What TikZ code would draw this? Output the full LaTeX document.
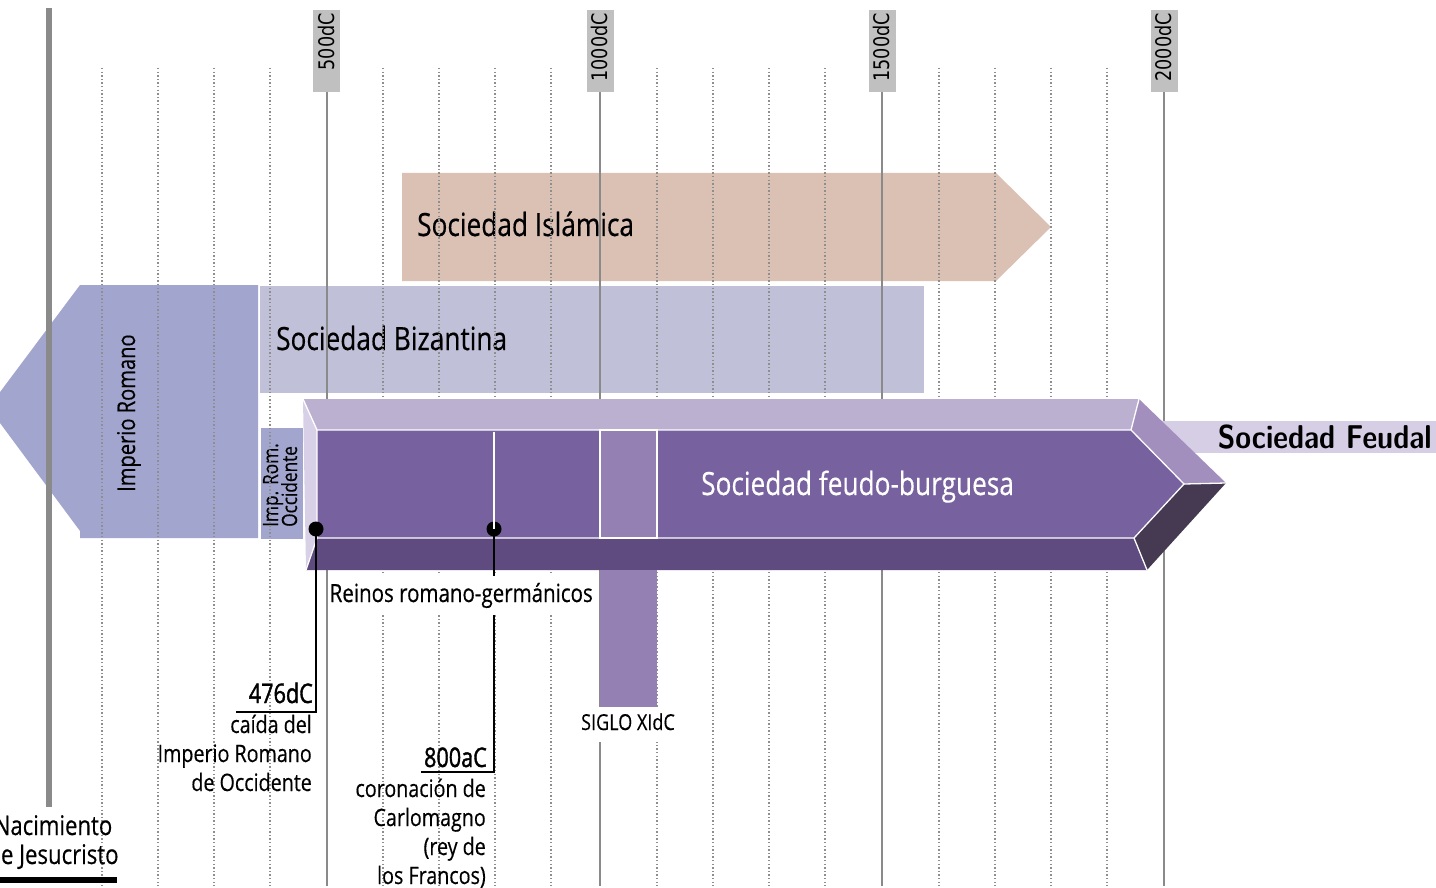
\documentclass[tikz,border=0pt]{standalone}
\usepackage{fontspec}
\usepackage{graphicx}
\newfontfamily\cnd{Open Sans}[FakeStretch=0.82, FakeBold=0.4]
\newfontfamily\cndb{Open Sans}[FakeStretch=0.80, FakeBold=1.4]
\newfontfamily\axf{DejaVu Sans}[FakeStretch=0.82]
\definecolor{islc}{HTML}{DBC0B4}
\definecolor{bizc}{HTML}{C0C1D8}
\definecolor{romc}{HTML}{A2A5CE}
\definecolor{ftop}{HTML}{BBB0D0}
\definecolor{fleft}{HTML}{D8D0E6}
\definecolor{ffront}{HTML}{77619E}
\definecolor{fbot}{HTML}{5F4B80}
\definecolor{fbevu}{HTML}{A28FBE}
\definecolor{fbevl}{HTML}{453A52}
\definecolor{fhl}{HTML}{9580B4}
\definecolor{fband}{HTML}{D6CEE5}
\definecolor{axboxc}{HTML}{C0C0C0}
\definecolor{axlinec}{HTML}{8A8A8A}
\definecolor{dotlc}{HTML}{8E8E8E}
\begin{document}
\begin{tikzpicture}[x=1pt,y=-1pt,
  axbox/.style={fill=axboxc, minimum width=27pt, minimum height=82pt, inner sep=0pt},
  axlab/.style={font=\axf\fontsize{21.5}{24}\selectfont, rotate=90, anchor=base east, inner sep=0pt},
  axline/.style={draw=axlinec, line width=2pt},
  gridline/.style={draw=dotlc, line width=1.1pt, dash pattern=on 1.4pt off 2.2pt},
  big/.style={font=\cnd\fontsize{32}{38}\selectfont, inner sep=0pt},
  mid/.style={font=\cnd\fontsize{24.5}{29}\selectfont, inner sep=0pt},
  small/.style={font=\cnd\fontsize{21}{24}\selectfont, inner sep=0pt},
  desc/.style={font=\cnd\fontsize{24}{29}\selectfont, inner sep=0pt, anchor=base east},
  year/.style={font=\cndb\fontsize{27}{30}\selectfont, inner sep=0pt, anchor=base east},
  edge/.style={draw=white, line width=1.3pt},
  callout/.style={draw=black, line width=2.5pt},
  dotn/.style={circle, fill=black, minimum size=15pt, inner sep=0pt},
]
\useasboundingbox (0,0) rectangle (1436,888);
\clip (0,0) rectangle (1436,888);

% ---- period boxes (behind the grid) ----
\fill[islc] (402,173) -- (996,173) -- (1051,227) -- (996,281) -- (402,281) -- cycle;
\fill[bizc] (260,286) rectangle (924,393);
\fill[romc] (80,285) -- (258,285) -- (258,538) -- (80,538) -- (80,531) -- (-11.5,407.5) -- cycle;
\fill[romc] (261,428) rectangle (303,539);

\node[big, anchor=base west] (isl) at (417,236) {Sociedad Islámica};
\node[big, anchor=base west] (biz) at (276,350) {Sociedad Bizantina};
\node[mid, rotate=90, anchor=base west] (improm) at (135,492) {Imperio Romano};
\node[small, rotate=90, anchor=base west] (iro1) at (278,527) {Imp. Rom.};
\node[small, rotate=90, anchor=base west] (iro2) at (297,527) {Occidente};

% ---- grid ----
\foreach \gx in {102,158,214,270,383,439,495,551,657,713,769,825,939,995,1051,1107}
  \draw[gridline] (\gx,68) -- (\gx,886);
\coordinate (jt) at (48.5,8);
\coordinate (jb) at (48.5,807);
\draw[draw=axlinec, line width=6pt] (jt) -- (jb);

\foreach \yr/\cx in {500/326.5, 1000/600, 1500/882, 2000/1164}{
  \node[axbox] (b\yr) at (\cx,51) {};
  \node[axlab] (l\yr) at (\cx+7.5,13) {\yr dC};
  \coordinate (e\yr) at (\cx,886);
  \draw[axline] (b\yr.south) -- (e\yr);
}

% ---- Sociedad Feudal band ----
\fill[fband] (1140,421) rectangle (1436,453);
\node[inner sep=0pt, anchor=base east, font=\sffamily\bfseries\fontsize{33}{40}\selectfont] (feud) at (1432,448) {\scalebox{0.87}[1]{Sociedad Feudal}};

% ---- 3D arrow ----
\coordinate (A) at (303,399);
\coordinate (B) at (1139,399);
\coordinate (T) at (1226,483);
\coordinate (C) at (1147,570);
\coordinate (D) at (306,570);
\coordinate (a) at (317,430);
\coordinate (b) at (1131,430);
\coordinate (t) at (1184,484);
\coordinate (c) at (1134,538);
\coordinate (d) at (317,538);
\fill[ftop] (A) -- (B) -- (b) -- (a) -- cycle;
\fill[fbevu] (B) -- (T) -- (t) -- (b) -- cycle;
\fill[fbevl] (T) -- (C) -- (c) -- (t) -- cycle;
\fill[fbot] (C) -- (D) -- (d) -- (c) -- cycle;
\fill[fleft] (D) -- (A) -- (a) -- (d) -- cycle;
\fill[ffront] (a) -- (b) -- (t) -- (c) -- (d) -- cycle;
\draw[edge] (a) -- (b) -- (t) -- (c) -- (d) -- cycle;
\draw[edge] (A) -- (a) (B) -- (b) (T) -- (t) (C) -- (c) (D) -- (d);
\fill[fhl, draw=white, line width=1.3pt] (600,430) rectangle (657,538);
\node[big, anchor=base west, text=white] (fb) at (701,495) {Sociedad feudo-burguesa};

% ---- siglo XI bar ----
\fill[fhl] (599.5,570) rectangle (657,708);

% ---- callouts ----
\node[dotn] (d476) at (316,529) {};
\node[dotn] (d800) at (494,529) {};
\coordinate (w800) at (494,432);
\draw[draw=white, line width=1.5pt] (w800) -- (d800.center);
\coordinate (u476) at (236,712);
\coordinate (u800) at (421,772);
\draw[callout] (d476.center) |- (u476);
\draw[callout] (d800.center) |- (u800);

\node[mid, fill=white, anchor=base west, inner xsep=0.5pt, inner ysep=7pt, font=\cnd\fontsize{25}{29}\selectfont] (reinos) at (329,602) {Reinos romano-germánicos};
\node[small, fill=white, anchor=base, inner xsep=4pt, inner ysep=6pt, text depth=6pt, font=\cnd\fontsize{22}{26}\selectfont] (siglo) at (628,730) {SIGLO XIdC};

\node[year] (y476) at (313,703) {476dC};
\node[desc] (c1) at (312,733) {caída del};
\node[desc] (c2) at (312,762) {Imperio Romano};
\node[desc] (c3) at (312,791) {de Occidente};

\node[year] (y800) at (487,767) {800aC};
\node[desc] (k1) at (486,797) {coronación de};
\node[desc] (k2) at (486,826) {Carlomagno};
\node[desc] (k3) at (486,855) {(rey de};
\node[desc] (k4) at (486,884) {los Francos)};

% ---- Nacimiento de Jesucristo ----
\node[inner sep=0pt, anchor=base, font=\cnd\fontsize{27}{30}\selectfont] (n1) at (53,835) {Nacimiento};
\node[inner sep=0pt, anchor=base, font=\cnd\fontsize{27}{30}\selectfont] (n2) at (53,864) {de Jesucristo};
\coordinate (nb1) at (-20,879.5);
\coordinate (nb2) at (117,879.5);
\draw[line width=6pt] (nb1) -- (nb2);
\end{tikzpicture}
\end{document}
